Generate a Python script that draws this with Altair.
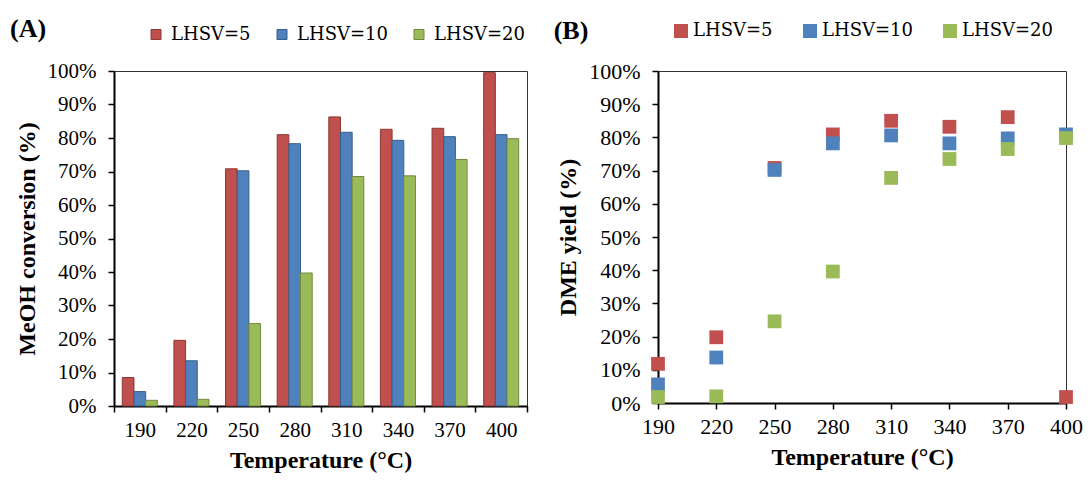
import altair as alt
import pandas as pd

# Reaction temperatures (°C) and space velocities
temps = [190, 220, 250, 280, 310, 340, 370, 400]
series = ["LHSV=5", "LHSV=10", "LHSV=20"]

# MeOH conversion (%)
meoh_lhsv5 = [8.5, 19.6, 70.8, 81.0, 86.3, 82.6, 82.9, 99.5]
meoh_lhsv10 = [4.3, 13.5, 70.2, 78.3, 81.7, 79.3, 80.4, 81.0]
meoh_lhsv20 = [1.7, 2.0, 24.6, 39.7, 68.5, 68.7, 73.6, 79.8]

# DME yield (%)
dme_lhsv5 = [11.8, 19.8, 70.8, 80.9, 85.0, 83.2, 86.1, 1.8]
dme_lhsv10 = [5.6, 13.7, 70.2, 78.2, 80.6, 78.2, 79.7, 80.9]
dme_lhsv20 = [1.8, 2.0, 24.6, 39.6, 67.8, 73.5, 76.5, 79.8]

y_ticks = list(range(0, 101, 10))

fill_colors = ["#C0504D", "#4F81BD", "#9BBB59"]
edge_colors = ["#8C3836", "#385D8A", "#71893F"]

FONT = "Liberation Serif"
LEGEND_FONT = "DejaVu Serif"


def long_table(values_by_series):
    rows = []
    for name, vals in zip(series, values_by_series):
        for t, v in zip(temps, vals):
            rows.append({"temp": t, "series": name, "value": v})
    return pd.DataFrame(rows)


meoh = long_table([meoh_lhsv5, meoh_lhsv10, meoh_lhsv20])
dme = long_table([dme_lhsv5, dme_lhsv10, dme_lhsv20])

pct_labels = "datum.value + '%'"


def y_axis(title, size):
    return alt.Axis(
        title=title,
        values=y_ticks,
        labelExpr=pct_labels,
        grid=False,
        tickSize=6,
        labelPadding=12,
        labelFontSize=size,
        titleFontSize=24,
        titlePadding=8,
    )


def x_axis(size, **extra):
    return alt.Axis(
        title="Temperature (°C)",
        labelAngle=0,
        tickSize=6,
        labelPadding=7,
        labelFontSize=size,
        titleFontSize=24,
        titlePadding=8,
        **extra,
    )


def make_legend(x, y, size, symbol_size, offset, gap, **extra):
    return alt.Legend(
        title=None,
        orient="none",
        direction="horizontal",
        legendX=x,
        legendY=y,
        symbolType="square",
        symbolSize=symbol_size,
        labelFont=LEGEND_FONT,
        labelFontSize=size,
        labelColor="#000000",
        labelOffset=offset,
        columnPadding=gap,
        padding=0,
        **extra,
    )


# (A) grouped bars of methanol conversion
panel_a = (
    alt.Chart(meoh)
    .mark_bar(strokeWidth=1)
    .encode(
        x=alt.X(
            "temp:O",
            sort=temps,
            scale=alt.Scale(paddingInner=0, paddingOuter=0),
            axis=x_axis(21, tickBand="extent"),
        ),
        xOffset=alt.XOffset(
            "series:N", sort=series, scale=alt.Scale(paddingInner=0, paddingOuter=0.71)
        ),
        y=alt.Y(
            "value:Q",
            scale=alt.Scale(domain=[0, 100], nice=False),
            axis=y_axis("MeOH conversion (%)", 21),
        ),
        color=alt.Color(
            "series:N",
            sort=series,
            scale=alt.Scale(domain=series, range=fill_colors),
            legend=make_legend(
                33, -45.5, 18, 100, 6, 22,
                symbolStrokeColor="#555555",
                symbolStrokeWidth=1,
            ),
        ),
        stroke=alt.Stroke(
            "series:N",
            sort=series,
            scale=alt.Scale(domain=series, range=edge_colors),
            legend=None,
        ),
    )
    .properties(
        width=413,
        height=335,
        title=alt.TitleParams(
            "(A)",
            font=FONT,
            anchor="start",
            frame="bounds",
            fontSize=26,
            offset=-16,
            dx=-5,
        ),
    )
)

# (B) scatter of DME yield
panel_b = (
    alt.Chart(dme)
    .mark_square(size=190, opacity=1)
    .encode(
        x=alt.X(
            "temp:O",
            sort=temps,
            scale=alt.Scale(type="point", padding=0),
            axis=x_axis(22),
        ),
        y=alt.Y(
            "value:Q",
            scale=alt.Scale(domain=[0, 100], nice=False),
            axis=y_axis("DME yield (%)", 22),
        ),
        color=alt.Color(
            "series:N",
            sort=series,
            scale=alt.Scale(domain=series, range=fill_colors),
            legend=make_legend(14, -49, 18, 196, 3, 28, symbolStrokeWidth=0),
        ),
    )
    .properties(
        width=408,
        height=332,
        title=alt.TitleParams(
            "(B)",
            font=FONT,
            anchor="start",
            frame="bounds",
            fontSize=26,
            offset=-22,
            dx=-3,
        ),
    )
)

chart = (
    alt.hconcat(panel_a, panel_b, spacing=24)
    .resolve_scale(color="independent", stroke="independent", x="independent", y="independent")
    .resolve_legend(color="independent")
    .properties(padding={"left": 9, "top": 15, "right": 0, "bottom": 0})
    .configure_view(stroke="#333333", strokeWidth=1)
    .configure_axis(
        labelFont=FONT,
        titleFont=FONT,
        labelColor="#000000",
        titleColor="#000000",
        titleFontWeight="bold",
        domainColor="#000000",
        domainWidth=2,
        tickColor="#000000",
        tickWidth=1.5,
    )
    .configure_title(font=FONT, fontWeight="bold", color="#000000")
)

chart.save("out.html", embed_options={"renderer": "svg", "actions": False})
